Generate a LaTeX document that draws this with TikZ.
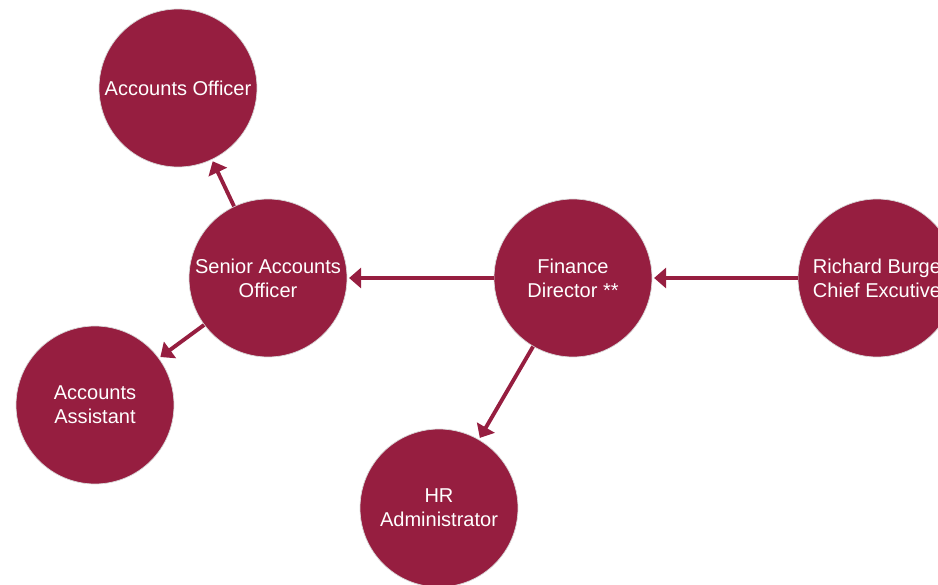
\documentclass[tikz,border=0pt]{standalone}
\usepackage{fontspec}
\setmainfont{Liberation Sans}
\usetikzlibrary{arrows.meta}
\definecolor{wine}{RGB}{150,30,64}
\tikzset{
	person/.style={circle, fill=wine, draw=black!15, line width=0.4pt, minimum size=3.16cm, inner sep=0pt,
		text=white, align=center, font=\fontsize{11.4}{13.7}\selectfont},
	link/.style={wine, line width=2.2pt, -{Triangle[length=0.24cm, width=0.4cm]}, shorten >=1pt}
}
\begin{document}
\begin{tikzpicture}[x=0.02cm, y=-0.02cm]
	\useasboundingbox (0,0) rectangle (938,585);
	\node[person] (officer) at (178,88) {Accounts Officer};
	\node[person] (senior) at (268,278) {Senior Accounts\\Officer};
	\node[person] (assistant) at (95,405) {Accounts\\Assistant};
	\node[person] (finance) at (573,278) {Finance\\Director **};
	\node[person] (hr) at (439,508) {HR\\Administrator};
	\node[person] (ceo) at (877,278) {Richard Burge\\Chief Excutive};
	\draw[link] (ceo) -- (finance);
	\draw[link] (finance) -- (senior);
	\draw[link] (finance) -- (hr);
	\draw[link] (senior) -- (officer);
	\draw[link] (senior) -- (assistant);
\end{tikzpicture}
\end{document}
